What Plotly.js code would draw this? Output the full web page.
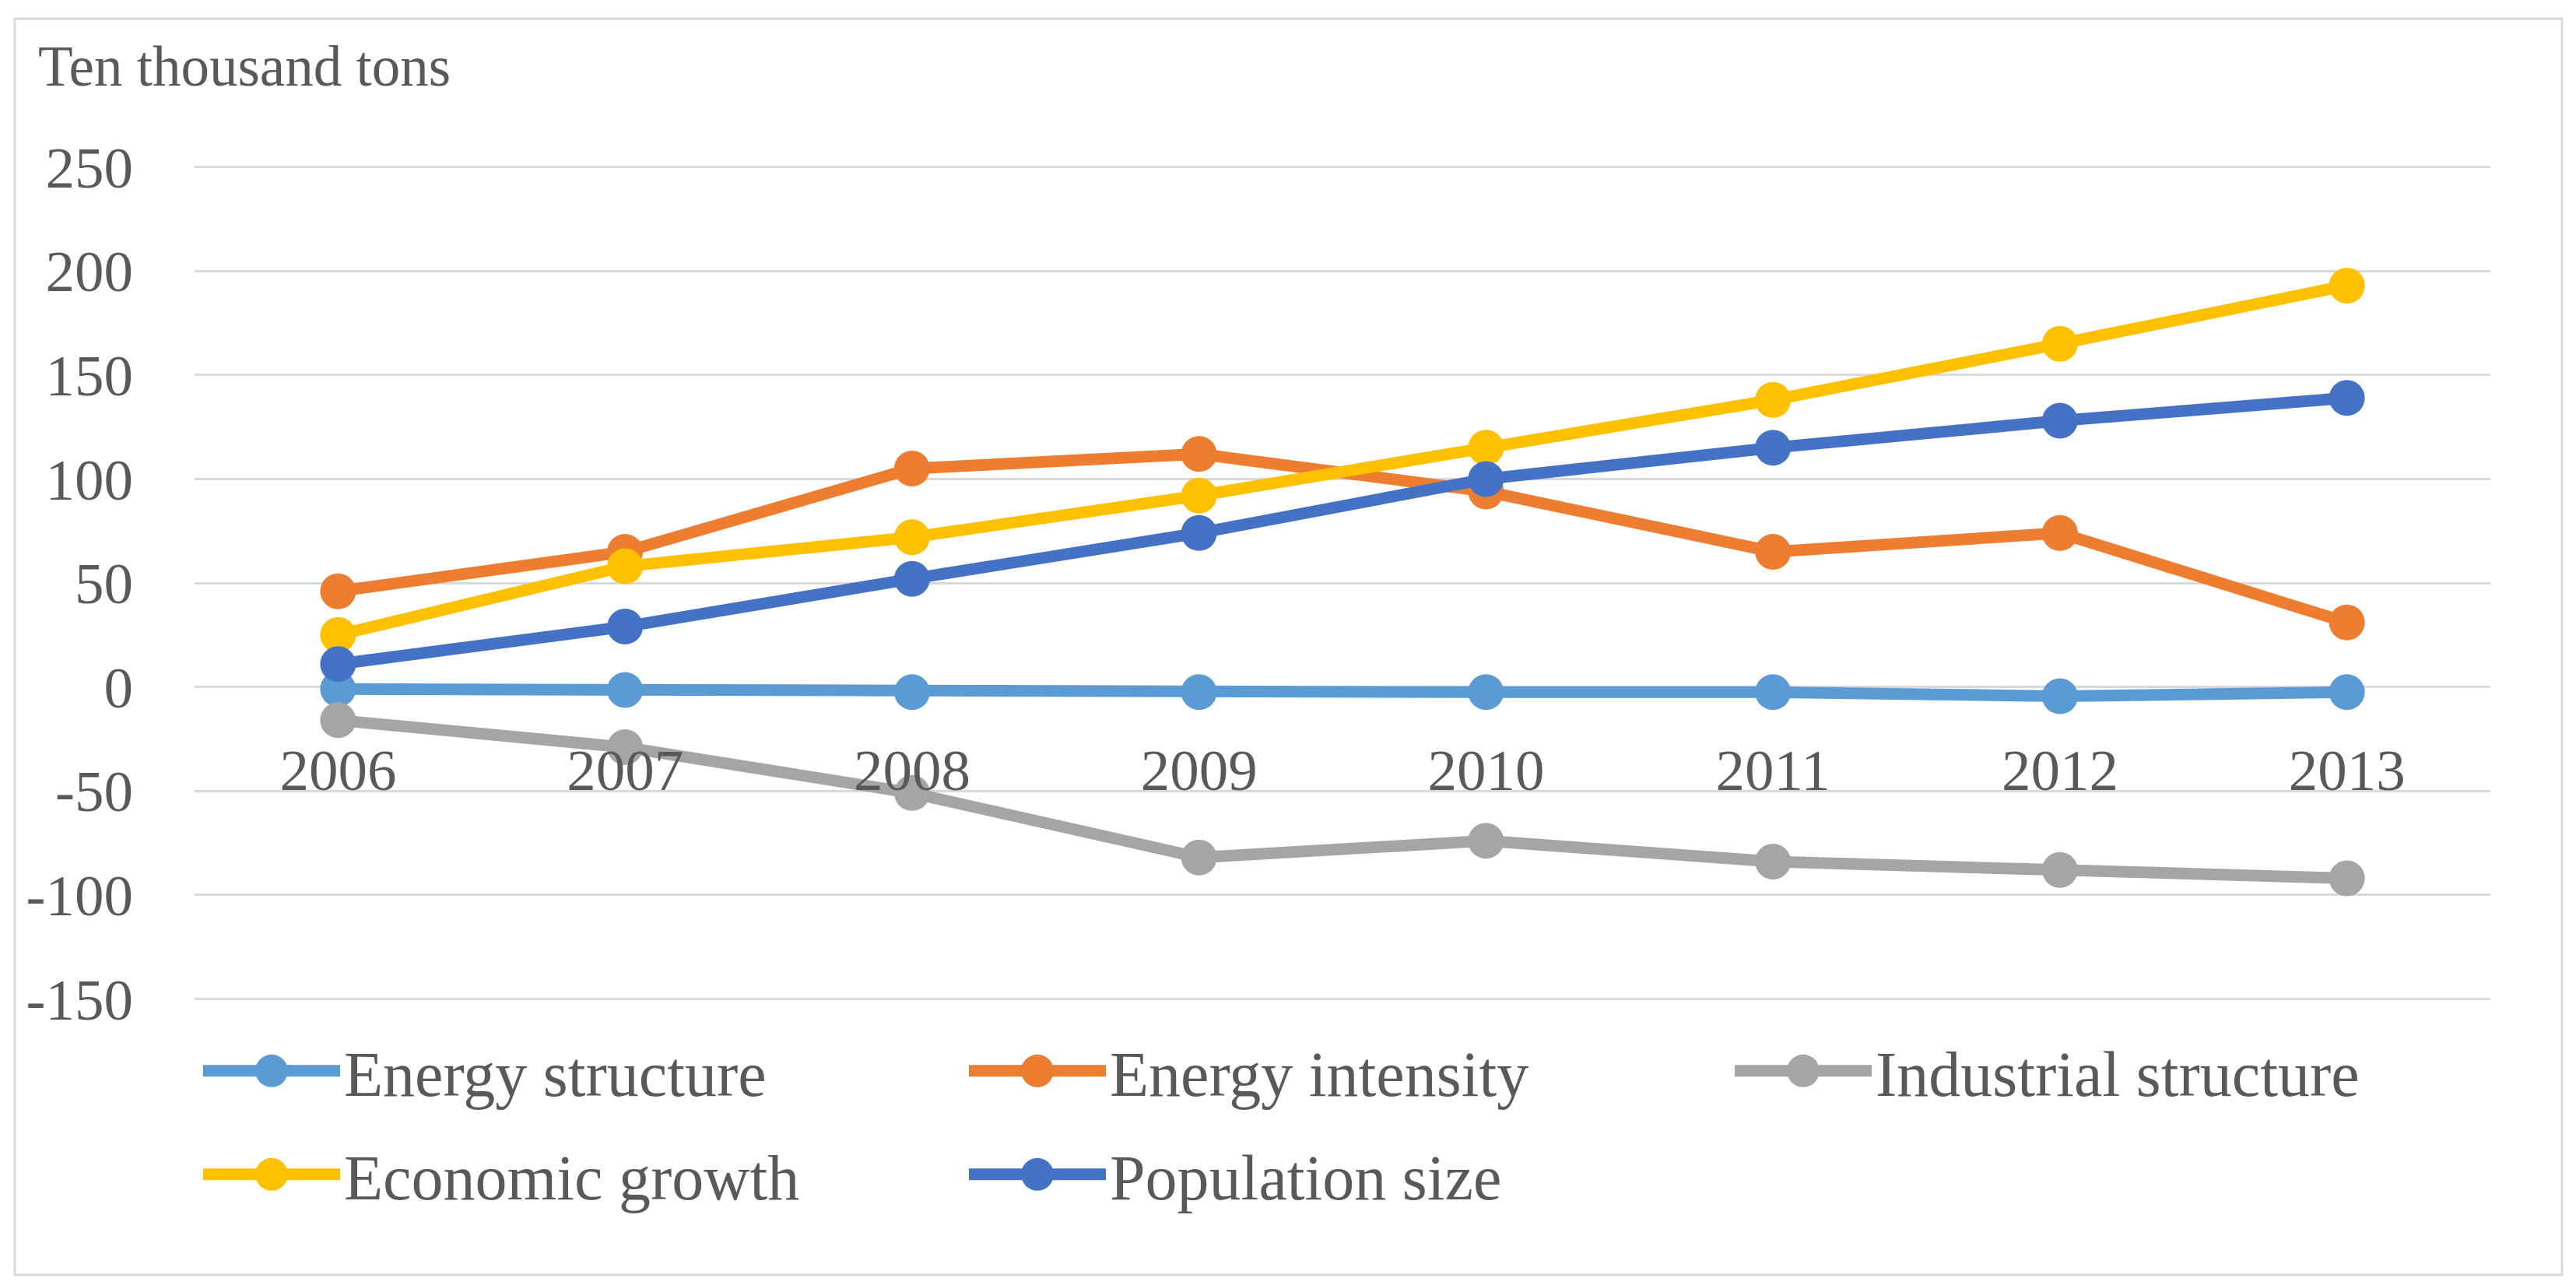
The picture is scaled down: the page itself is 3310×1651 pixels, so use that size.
<!DOCTYPE html>
<html>
<head>
<meta charset="utf-8">
<script src="https://cdn.plot.ly/plotly-3.0.1.min.js"></script>
<style>
  html, body { margin: 0; padding: 0; background: #fff; }
  #chart { width: 3310px; height: 1651px; }
</style>
</head>
<body>
<div id="chart"></div>
<script>
// values (ten thousand tons)
var years = ['2006', '2007', '2008', '2009', '2010', '2011', '2012', '2013'];
var energyStructure = [-1, -1.5, -2.5, -2.5, -2.5, -2.5, -4.5, -2.5];
var energyIntensity = [46, 65, 105, 112, 94, 65, 74, 31];
var industrialStructure = [-16, -29, -51, -82, -74, -84, -88, -92];
var economicGrowth = [25, 58, 72, 92, 115, 138, 165, 193];
var populationSize = [11, 29, 52, 74, 100, 115, 128, 139];
var yTicks = [-150, -100, -50, 0, 50, 100, 150, 200, 250];
var yTickText = ['-150', '-100', '-50', '0', '50', '100', '150', '200', '250'];

var textColor = '#595959';
var fontFamily = '"Liberation Serif", "DejaVu Serif", serif';

function makeTrace(name, values, color, legendName) {
    return {
        type: 'scatter',
        mode: 'lines+markers',
        name: name,
        legend: legendName,
        x: years,
        y: values,
        line: { color: color, width: 15 },
        marker: { color: color, size: 46 },
        cliponaxis: false
    };
}

var data = [
    makeTrace('Energy structure', energyStructure, '#5B9BD5', 'legend'),
    makeTrace('Energy intensity', energyIntensity, '#ED7D31', 'legend'),
    makeTrace('Industrial structure', industrialStructure, '#A5A5A5', 'legend'),
    makeTrace('Economic growth', economicGrowth, '#FFC000', 'legend2'),
    makeTrace('Population size', populationSize, '#4472C4', 'legend2')
];

function legendRow(top) {
    return {
        orientation: 'h',
        xref: 'container',
        yref: 'container',
        x: 256 / 3310,
        xanchor: 'left',
        y: 1 - top / 1651,
        yanchor: 'top',
        entrywidth: 793,
        entrywidthmode: 'pixels',
        itemwidth: 176,
        font: { family: fontFamily, color: textColor, size: 82 },
        bgcolor: 'rgba(0,0,0,0)'
    };
}

var layout = {
    width: 3310,
    height: 1651,
    margin: { l: 250, r: 110, t: 213, b: 366 },
    paper_bgcolor: '#ffffff',
    plot_bgcolor: '#ffffff',
    font: { family: fontFamily, color: textColor, size: 75 },
    title: {
        text: 'Ten thousand tons',
        font: { family: fontFamily, color: textColor, size: 73 },
        x: 49 / 3310,
        xanchor: 'left',
        xref: 'container',
        y: 1 - 84 / 1651,
        yanchor: 'middle',
        yref: 'container'
    },
    xaxis: {
        type: 'category',
        range: [-0.5, 7.5],
        anchor: 'free',
        position: 0.375,
        showgrid: false,
        showline: false,
        zeroline: false,
        ticks: '',
        ticklabelstandoff: 56,
        tickfont: { family: fontFamily, color: textColor, size: 75 }
    },
    yaxis: {
        range: [-150.6, 250.6],
        tickvals: yTicks,
        ticktext: yTickText,
        showgrid: true,
        gridcolor: '#D9D9D9',
        gridwidth: 3,
        zeroline: false,
        showline: false,
        ticks: '',
        ticklabelstandoff: 78,
        tickfont: { family: fontFamily, color: textColor, size: 75 }
    },
    legend: legendRow(1316),
    legend2: legendRow(1449),
    shapes: [{
        type: 'rect',
        xref: 'paper',
        yref: 'paper',
        x0: (19 - 250) / 2950,
        x1: (3292 - 250) / 2950,
        y0: (1285 - 1638) / 1072,
        y1: (1285 - 24) / 1072,
        line: { color: '#D9D9D9', width: 3 },
        layer: 'below'
    }]
};

Plotly.newPlot('chart', data, layout, { displayModeBar: false, staticPlot: true }).then(function (gd) {
    // legend keys: thick line with a big dot, like the office chart
    gd.querySelectorAll('.legendlines path').forEach(function (p) {
        p.style.strokeWidth = '15px';
    });
    gd.querySelectorAll('.legendpoints path.scatterpts').forEach(function (p) {
        p.setAttribute('d', 'M21,0A21,21 0 1,1 0,-21A21,21 0 0,1 21,0Z');
    });
});
</script>
</body>
</html>
